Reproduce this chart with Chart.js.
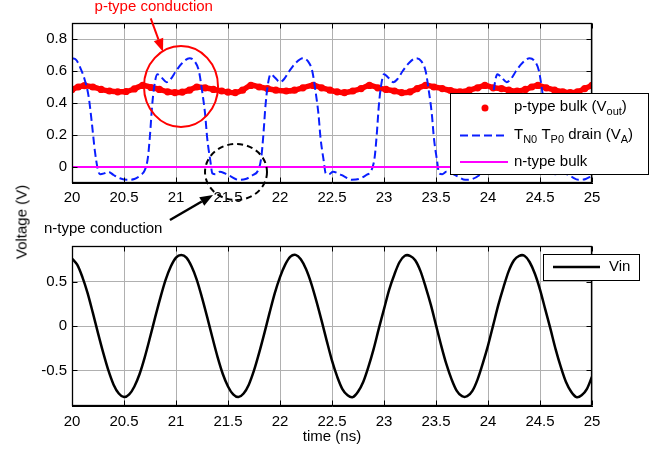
<!DOCTYPE html>
<html>
<head>
<meta charset="utf-8">
<title>Voltage vs time</title>
<script src="https://cdn.jsdelivr.net/npm/chart.js@4.4.1/dist/chart.umd.min.js"></script>
<style>
  body { margin: 0; background: #fff; }
  #wrap { position: relative; width: 665px; height: 452px; background: #fff; font-family: 'Liberation Sans', Arial, sans-serif; }
  #topChart { position: absolute; left: 0; top: 0; }
  #bottomChart { position: absolute; left: 0; top: 240px; }
  #ylabel { position: absolute; left: 21px; top: 222px; transform: translate(-50%, -50%) rotate(-90deg); font-size: 15px; white-space: nowrap; color: #000; }
</style>
</head>
<body>
<div id="wrap">
  <canvas id="topChart" width="665" height="240"></canvas>
  <canvas id="bottomChart" width="665" height="212"></canvas>
  <div id="ylabel">Voltage (V)</div>
</div>
<script>
// tick labels
const timeTicks = [20, 20.5, 21, 21.5, 22, 22.5, 23, 23.5, 24, 24.5, 25];
const topVoltTicks = [0, 0.2, 0.4, 0.6, 0.8];
const bottomVoltTicks = [-0.5, 0, 0.5];

// p-type bulk (Vout), red dots
const pBulkTime = [20.00, 20.06, 20.12, 20.20, 20.28, 20.36, 20.44, 20.52, 20.60, 20.68, 20.76, 20.84, 20.92, 20.99,
  21.06, 21.13, 21.20, 21.28, 21.36, 21.44, 21.50, 21.57, 21.64, 21.72, 21.80, 21.88, 21.96, 22.06, 22.14, 22.22,
  22.32, 22.40, 22.48, 22.55, 22.62, 22.70, 22.78, 22.86, 22.94, 23.02, 23.10, 23.17, 23.25, 23.32, 23.40, 23.48,
  23.56, 23.64, 23.73, 23.82, 23.90, 23.97, 24.05, 24.13, 24.20, 24.28, 24.36, 24.42, 24.48, 24.56, 24.64, 24.72,
  24.79, 24.86, 24.93, 25.00];
const pBulkValues = [0.485, 0.50, 0.508, 0.50, 0.485, 0.475, 0.47, 0.472, 0.488, 0.51, 0.497, 0.485, 0.47, 0.465,
  0.468, 0.48, 0.50, 0.495, 0.485, 0.475, 0.468, 0.465, 0.48, 0.51, 0.50, 0.49, 0.48, 0.475, 0.48, 0.495,
  0.51, 0.495, 0.48, 0.47, 0.465, 0.475, 0.49, 0.51, 0.495, 0.485, 0.475, 0.465, 0.47, 0.49, 0.51, 0.50,
  0.49, 0.478, 0.47, 0.48, 0.495, 0.51, 0.495, 0.49, 0.48, 0.475, 0.485, 0.50, 0.51, 0.495, 0.48, 0.47,
  0.465, 0.47, 0.49, 0.51];

// TN0 TP0 drain (VA), blue dashed
const drainTime = [20.00, 20.04, 20.08, 20.12, 20.16, 20.19, 20.22, 20.25, 20.27, 20.31, 20.35, 20.40, 20.46, 20.53, 20.60, 20.66,
  20.70, 20.73, 20.75, 20.77, 20.79, 20.82, 20.86, 20.91, 20.95, 21.00, 21.06, 21.13, 21.18, 21.22, 21.25, 21.28, 21.30, 21.33,
  21.35, 21.38, 21.42, 21.47, 21.53, 21.60, 21.67, 21.74,
  21.79, 21.82, 21.84, 21.86, 21.88, 21.91, 21.95, 22.00, 22.04, 22.09, 22.15, 22.22, 22.27, 22.31, 22.34, 22.37, 22.39, 22.42,
  22.44, 22.47, 22.51, 22.56, 22.62, 22.69, 22.76, 22.83,
  22.88, 22.91, 22.93, 22.95, 22.97, 23.00, 23.04, 23.09, 23.13, 23.18, 23.24, 23.31, 23.36, 23.40, 23.43, 23.46, 23.48, 23.51,
  23.53, 23.56, 23.60, 23.65, 23.71, 23.78, 23.85, 23.92,
  23.97, 24.00, 24.02, 24.04, 24.06, 24.09, 24.13, 24.18, 24.22, 24.27, 24.33, 24.40, 24.45, 24.49, 24.52, 24.55, 24.57, 24.60,
  24.62, 24.65, 24.69, 24.74, 24.80, 24.87, 24.94, 25.00];
const drainValues = [0.68, 0.67, 0.62, 0.55, 0.44, 0.28, 0.10, -0.02, -0.045, -0.04, -0.03, -0.05, -0.07, -0.08, -0.075, -0.05,
  -0.02, 0.06, 0.20, 0.38, 0.50, 0.58, 0.56, 0.53, 0.55, 0.60, 0.65, 0.68, 0.66, 0.60, 0.48, 0.33, 0.18, 0.04,
  -0.04, -0.045, -0.03, -0.04, -0.06, -0.08, -0.075, -0.05,
  -0.02, 0.06, 0.20, 0.38, 0.50, 0.58, 0.56, 0.53, 0.55, 0.60, 0.65, 0.68, 0.66, 0.60, 0.48, 0.33, 0.18, 0.04,
  -0.04, -0.045, -0.03, -0.04, -0.06, -0.08, -0.075, -0.05,
  -0.02, 0.06, 0.20, 0.38, 0.50, 0.58, 0.56, 0.53, 0.55, 0.60, 0.65, 0.68, 0.66, 0.60, 0.48, 0.33, 0.18, 0.04,
  -0.04, -0.045, -0.03, -0.04, -0.06, -0.08, -0.075, -0.05,
  -0.02, 0.06, 0.20, 0.38, 0.50, 0.58, 0.56, 0.53, 0.55, 0.60, 0.65, 0.68, 0.66, 0.60, 0.48, 0.33, 0.18, 0.04,
  -0.04, -0.045, -0.03, -0.04, -0.06, -0.08, -0.075, -0.055];

// n-type bulk, magenta
const nBulkTime = [20, 25];
const nBulkValues = [0, 0];

// Vin, black
const vinTime = [20.00, 20.05, 20.10, 20.15, 20.20, 20.25, 20.30, 20.35, 20.40, 20.45, 20.50, 20.55, 20.60, 20.65, 20.70,
  20.75, 20.80, 20.85, 20.90, 20.95, 21.00, 21.05, 21.10, 21.15, 21.20, 21.25, 21.30, 21.35, 21.40, 21.45, 21.50,
  21.55, 21.60, 21.65, 21.70, 21.75, 21.80, 21.85, 21.90, 21.95, 22.00, 22.05, 22.10, 22.15, 22.20, 22.25, 22.30,
  22.35, 22.40, 22.45, 22.50, 22.55, 22.60, 22.65, 22.70, 22.75, 22.80, 22.85, 22.90, 22.95, 23.00, 23.05, 23.10,
  23.15, 23.20, 23.25, 23.30, 23.35, 23.40, 23.45, 23.50, 23.55, 23.60, 23.65, 23.70, 23.75, 23.80, 23.85, 23.90,
  23.95, 24.00, 24.05, 24.10, 24.15, 24.20, 24.25, 24.30, 24.35, 24.40, 24.45, 24.50, 24.55, 24.60, 24.65, 24.70,
  24.75, 24.80, 24.85, 24.90, 24.95, 25.00];
const vinValues = [0.76, 0.69, 0.55, 0.37, 0.15, -0.08, -0.30, -0.50, -0.66, -0.76, -0.80, -0.77, -0.68, -0.54, -0.35,
  -0.13, 0.10, 0.32, 0.52, 0.67, 0.77, 0.80, 0.77, 0.67, 0.52, 0.32, 0.10, -0.13, -0.35, -0.54, -0.68,
  -0.77, -0.80, -0.76, -0.66, -0.50, -0.30, -0.08, 0.15, 0.37, 0.55, 0.69, 0.78, 0.80, 0.75, 0.64, 0.48,
  0.28, 0.06, -0.17, -0.39, -0.57, -0.71, -0.78, -0.80, -0.74, -0.63, -0.46, -0.26, -0.03, 0.19, 0.41, 0.58,
  0.72, 0.79, 0.79, 0.74, 0.62, 0.44, 0.24, 0.01, -0.22, -0.43, -0.60, -0.73, -0.79, -0.79, -0.73, -0.60,
  -0.42, -0.22, 0.01, 0.24, 0.44, 0.62, 0.74, 0.79, 0.79, 0.72, 0.59, 0.41, 0.19, -0.03, -0.26, -0.46,
  -0.63, -0.74, -0.80, -0.78, -0.71, -0.57];

const FONT = "'Liberation Sans', Arial, sans-serif";

function toPoints(xs, ys) {
  return xs.map((x, i) => ({ x: x, y: ys[i] }));
}

// text with subscripts, parts = [[text, isSub], ...]
function drawRich(ctx, parts, x, y) {
  let cx = x;
  ctx.textAlign = 'left';
  ctx.textBaseline = 'middle';
  parts.forEach(([txt, sub]) => {
    ctx.font = (sub ? '11px ' : '15px ') + FONT;
    ctx.fillText(txt, cx, sub ? y + 5 : y);
    cx += ctx.measureText(txt).width;
  });
}

function drawArrow(ctx, x1, y1, x2, y2, color, width) {
  const ang = Math.atan2(y2 - y1, x2 - x1);
  const len = 13, half = 5;
  const bx = x2 - len * Math.cos(ang), by = y2 - len * Math.sin(ang);
  ctx.save();
  ctx.strokeStyle = color;
  ctx.fillStyle = color;
  ctx.lineWidth = width;
  ctx.beginPath();
  ctx.moveTo(x1, y1);
  ctx.lineTo(bx, by);
  ctx.stroke();
  ctx.beginPath();
  ctx.moveTo(x2, y2);
  ctx.lineTo(bx + half * Math.sin(ang), by - half * Math.cos(ang));
  ctx.lineTo(bx - half * Math.sin(ang), by + half * Math.cos(ang));
  ctx.closePath();
  ctx.fill();
  ctx.restore();
}

// box around plot area + inward tick marks (matlab style)
function drawFrame(chart) {
  const ctx = chart.ctx;
  const a = chart.chartArea;
  const l = Math.round(a.left) + 0.5, r = Math.round(a.right) - 0.5;
  const t = Math.round(a.top) + 0.5, b = Math.round(a.bottom) - 0.5;
  ctx.save();
  ctx.strokeStyle = '#000';
  ctx.lineWidth = 1;
  ctx.beginPath();
  chart.scales.x.ticks.forEach(tk => {
    const px = Math.round(chart.scales.x.getPixelForValue(tk.value)) + 0.5;
    ctx.moveTo(px, b); ctx.lineTo(px, b - 5);
    ctx.moveTo(px, t); ctx.lineTo(px, t + 5);
  });
  chart.scales.y.ticks.forEach(tk => {
    const py = Math.round(chart.scales.y.getPixelForValue(tk.value)) + 0.5;
    ctx.moveTo(l, py); ctx.lineTo(l + 5, py);
    ctx.moveTo(r, py); ctx.lineTo(r - 5, py);
  });
  ctx.stroke();
  ctx.lineWidth = 1.3;
  ctx.strokeRect(l, t, r - l, b - t);
  ctx.restore();
}

function axisOpts(min, max, ticks, fitSize, isX, pad) {
  return {
    type: 'linear',
    min: min,
    max: max,
    afterBuildTicks: s => { s.ticks = ticks.map(v => ({ value: v })); },
    afterFit: s => {
      if (isX) { s.height = fitSize; s.paddingLeft = 0; s.paddingRight = 0; }
      else { s.width = fitSize; s.paddingTop = 0; s.paddingBottom = 0; }
    },
    grid: { color: '#b0b0b0', lineWidth: 1, drawTicks: false },
    border: { color: '#000', width: 1 },
    ticks: {
      autoSkip: false,
      maxRotation: 0,
      padding: pad,
      color: '#000',
      font: { family: FONT, size: 15 },
      callback: v => String(v)
    }
  };
}

document.addEventListener('DOMContentLoaded', function() {
  const topCtx = document.getElementById('topChart').getContext('2d');
  const bottomCtx = document.getElementById('bottomChart').getContext('2d');

  const topExtras = {
    id: 'topExtras',
    afterDraw(chart) {
      const ctx = chart.ctx;
      const xs = chart.scales.x, ys = chart.scales.y;
      const X = v => xs.getPixelForValue(v), Y = v => ys.getPixelForValue(v);
      drawFrame(chart);

      // red circle + arrow + label
      ctx.save();
      ctx.strokeStyle = '#ff0000';
      ctx.lineWidth = 2;
      ctx.beginPath();
      ctx.ellipse(X(21.048), Y(0.503), X(21.048 + 0.356) - X(21.048), Y(0.503) - Y(0.503 + 0.253), 0, 0, Math.PI * 2);
      ctx.stroke();
      ctx.restore();
      drawArrow(ctx, X(20.757), Y(0.929), X(20.875), Y(0.72), '#ff0000', 2);
      ctx.save();
      ctx.fillStyle = '#ff0000';
      ctx.font = '15px ' + FONT;
      ctx.textAlign = 'center';
      ctx.textBaseline = 'middle';
      ctx.fillText('p-type conduction', X(20.786), Y(1.0));
      ctx.restore();

      // black dashed circle + arrow + label
      ctx.save();
      ctx.strokeStyle = '#000';
      ctx.lineWidth = 2;
      ctx.setLineDash([6, 4]);
      ctx.beginPath();
      ctx.ellipse(X(21.577), Y(-0.031), X(21.577 + 0.298) - X(21.577), Y(-0.031) - Y(-0.031 + 0.175), 0, 0, Math.PI * 2);
      ctx.stroke();
      ctx.restore();
      drawArrow(ctx, X(20.942), Y(-0.331), X(21.356), Y(-0.175), '#000', 2.5);
      ctx.save();
      ctx.fillStyle = '#000';
      ctx.font = '15px ' + FONT;
      ctx.textAlign = 'left';
      ctx.textBaseline = 'middle';
      ctx.fillText('n-type conduction', X(19.731), Y(-0.3875));
      ctx.restore();

      // legend
      ctx.save();
      ctx.fillStyle = '#fff';
      ctx.fillRect(450, 93, 198, 81);
      ctx.strokeStyle = '#000';
      ctx.lineWidth = 1;
      ctx.strokeRect(450.5, 93.5, 198, 81);
      ctx.fillStyle = '#ff0000';
      ctx.beginPath();
      ctx.arc(485, 108, 3.5, 0, Math.PI * 2);
      ctx.fill();
      ctx.strokeStyle = '#0a1eff';
      ctx.lineWidth = 2;
      ctx.setLineDash([8, 4]);
      ctx.beginPath();
      ctx.moveTo(460, 135.5); ctx.lineTo(508, 135.5);
      ctx.stroke();
      ctx.setLineDash([]);
      ctx.strokeStyle = '#ff00ff';
      ctx.beginPath();
      ctx.moveTo(460, 162); ctx.lineTo(508, 162);
      ctx.stroke();
      ctx.fillStyle = '#000';
      drawRich(ctx, [['p-type bulk (V', 0], ['out', 1], [')', 0]], 514, 107);
      drawRich(ctx, [['T', 0], ['N0', 1], [' T', 0], ['P0', 1], [' drain (V', 0], ['A', 1], [')', 0]], 514, 135);
      drawRich(ctx, [['n-type bulk', 0]], 514, 162);
      ctx.restore();
    }
  };

  const bottomExtras = {
    id: 'bottomExtras',
    afterDraw(chart) {
      const ctx = chart.ctx;
      const a = chart.chartArea;
      drawFrame(chart);
      ctx.save();
      ctx.fillStyle = '#000';
      ctx.font = '15px ' + FONT;
      ctx.textAlign = 'center';
      ctx.textBaseline = 'middle';
      ctx.fillText('time (ns)', (a.left + a.right) / 2, 197);
      // legend
      ctx.fillStyle = '#fff';
      ctx.fillRect(543, 14, 96, 26);
      ctx.strokeStyle = '#000';
      ctx.lineWidth = 1;
      ctx.strokeRect(543.5, 14.5, 96, 26);
      ctx.lineWidth = 2.5;
      ctx.beginPath();
      ctx.moveTo(553, 27); ctx.lineTo(600, 27);
      ctx.stroke();
      ctx.fillStyle = '#000';
      drawRich(ctx, [['Vin', 0]], 609, 27);
      ctx.restore();
    }
  };

  const topChart = new Chart(topCtx, {
    type: 'line',
    data: {
      datasets: [{
        label: 'p-type bulk (Vout)',
        data: toPoints(pBulkTime, pBulkValues),
        borderColor: '#ff0000',
        backgroundColor: '#ff0000',
        borderWidth: 5.5,
        pointRadius: 3.6,
        pointBorderWidth: 0,
        tension: 0.4,
        order: 3
      }, {
        label: 'TN0 TP0 drain (VA)',
        data: toPoints(drainTime, drainValues),
        borderColor: '#0a1eff',
        borderWidth: 2,
        borderDash: [8, 4],
        pointRadius: 0,
        cubicInterpolationMode: 'monotone',
        order: 2
      }, {
        label: 'n-type bulk',
        data: toPoints(nBulkTime, nBulkValues),
        borderColor: '#ff00ff',
        borderWidth: 2,
        pointRadius: 0,
        order: 1
      }]
    },
    options: {
      responsive: false,
      animation: false,
      layout: { padding: { left: 0, right: 73, top: 23, bottom: 0 } },
      plugins: { legend: { display: false }, tooltip: { enabled: false } },
      scales: {
        x: axisOpts(20, 25, timeTicks, 57, true, 6),
        y: axisOpts(-0.1, 0.9, topVoltTicks, 72, false, 5)
      }
    },
    plugins: [topExtras]
  });

  const bottomChart = new Chart(bottomCtx, {
    type: 'line',
    data: {
      datasets: [{
        label: 'Vin',
        data: toPoints(vinTime, vinValues),
        borderColor: '#000',
        borderWidth: 2.5,
        pointRadius: 0,
        tension: 0.3
      }]
    },
    options: {
      responsive: false,
      animation: false,
      layout: { padding: { left: 0, right: 73, top: 6, bottom: 0 } },
      plugins: { legend: { display: false }, tooltip: { enabled: false } },
      scales: {
        x: axisOpts(20, 25, timeTicks, 46, true, 7),
        y: axisOpts(-0.9, 0.9, bottomVoltTicks, 72, false, 5)
      }
    },
    plugins: [bottomExtras]
  });
});
</script>
</body>
</html>
